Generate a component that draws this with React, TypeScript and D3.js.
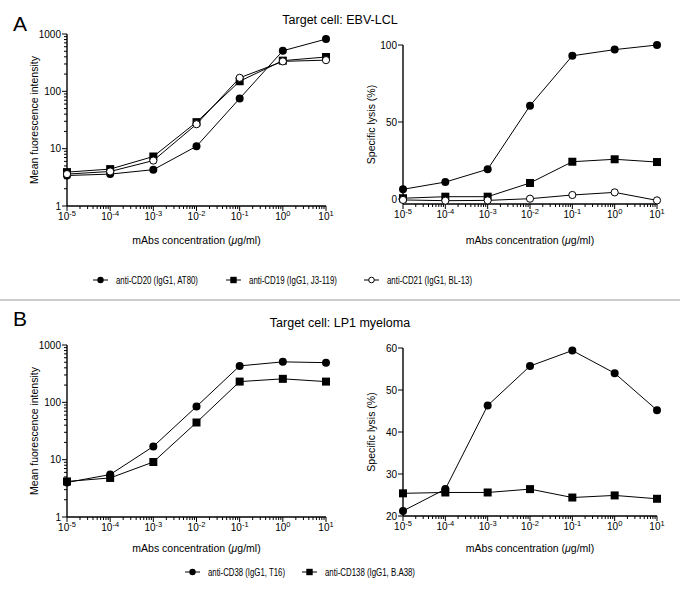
import React from "react";
import * as d3 from "d3";

// ---- data ----
const concentrations = [1e-5, 1e-4, 1e-3, 1e-2, 1e-1, 1, 10];
const xTickExponents = [-5, -4, -3, -2, -1, 0, 1];

const mfiCD20 = [3.4, 3.6, 4.3, 11, 75, 510, 815];
const mfiCD19 = [3.9, 4.4, 7.3, 29, 150, 343, 397];
const mfiCD21 = [3.6, 4.0, 6.2, 26.7, 172, 333, 350];
const lysisCD20 = [6.3, 11, 19.3, 60.6, 93, 97, 100];
const lysisCD19 = [0.5, 1.5, 1.5, 10.4, 24.2, 25.8, 24];
const lysisCD21 = [-0.6, -1.1, -0.9, 0.2, 2.6, 4.3, -0.9];

const mfiCD38 = [4.0, 5.5, 17, 84.5, 432, 508, 492];
const mfiCD138 = [4.17, 4.8, 9.1, 44.5, 230, 257, 230];
const lysisCD38 = [21.2, 26.4, 46.3, 55.7, 59.4, 54, 45.2];
const lysisCD138 = [25.4, 25.6, 25.6, 26.4, 24.4, 24.9, 24.1];

const mfiTicks = [1, 10, 100, 1000];
const lysisTicksA = [0, 50, 100];
const lysisTicksB = [20, 30, 40, 50, 60];

const legendA = ["anti-CD20 (IgG1, AT80)", "anti-CD19 (IgG1, J3-119)", "anti-CD21 (IgG1, BL-13)"];
const legendB = ["anti-CD38 (IgG1, T16)", "anti-CD138 (IgG1, B.A38)"];

const FONT = "'Liberation Sans', Arial, Helvetica, sans-serif";

type MarkerKind = "circle" | "square" | "open";

function Marker({ kind, x, y, s = 4 }: { kind: MarkerKind; x: number; y: number; s?: number }) {
  if (kind === "square")
    return <rect x={x - s} y={y - s} width={2 * s} height={2 * s} fill="#000" />;
  if (kind === "open")
    return <circle cx={x} cy={y} r={s - 0.4} fill="#fff" stroke="#000" strokeWidth={1} />;
  return <circle cx={x} cy={y} r={s} fill="#000" />;
}

type Series = { values: number[]; kind: MarkerKind };

function Panel(props: {
  x0: number;
  x1: number;
  yScale: any;
  isLog: boolean;
  yTicks: number[];
  axisBottom: number;
  axisTop: number;
  series: Series[];
  yTitle: string;
  yTitleX: number;
  xLabelDy: number;
  xTitleDy: number;
}) {
  const { x0, x1, yScale, isLog, yTicks, axisBottom, axisTop, series, yTitle, yTitleX, xLabelDy, xTitleDy } = props;
  const x = d3.scaleLog().domain([1e-5, 10]).range([x0, x1]);
  const xAll = x.ticks();
  const isMajor = (v: number) => Math.abs(Math.log10(v) - Math.round(Math.log10(v))) < 1e-9;
  const yMinor = isLog ? (yScale.ticks() as number[]).filter((v) => !isMajor(v)) : [];
  const line = d3
    .line<number>()
    .x((_, i) => x(concentrations[i]))
    .y((d) => yScale(d));
  const yMid = (axisTop + axisBottom) / 2;
  return (
    <g fontFamily={FONT} fill="#000">
      {/* axes */}
      <line x1={x0} x2={x0} y1={axisTop} y2={axisBottom} stroke="#000" strokeWidth={1.4} />
      <line x1={x0} x2={x1} y1={axisBottom} y2={axisBottom} stroke="#000" strokeWidth={1.4} />
      {xAll.map((v, i) => (
        <line
          key={"xt" + i}
          x1={x(v)}
          x2={x(v)}
          y1={axisBottom}
          y2={axisBottom + (isMajor(v) ? 5 : 3)}
          stroke="#000"
          strokeWidth={1}
        />
      ))}
      {xTickExponents.map((e) => (
        <text key={"xl" + e} x={x(Math.pow(10, e))} y={axisBottom + xLabelDy} fontSize={10} textAnchor="middle">
          <tspan>10</tspan>
          <tspan dy={-4} fontSize={7.5}>
            {String(e)}
          </tspan>
        </text>
      ))}
      <text x={(x0 + x1) / 2} y={axisBottom + xTitleDy} fontSize={10.5} textAnchor="middle">
        mAbs concentration (<tspan fontStyle="italic">μ</tspan>g/ml)
      </text>
      {yTicks.map((v) => (
        <g key={"yt" + v}>
          <line x1={x0 - 5} x2={x0} y1={yScale(v)} y2={yScale(v)} stroke="#000" strokeWidth={1} />
          <text x={x0 - 6} y={yScale(v)} dy="0.35em" fontSize={10} textAnchor="end">
            {v}
          </text>
        </g>
      ))}
      {yMinor.map((v, i) => (
        <line key={"ym" + i} x1={x0 - 3} x2={x0} y1={yScale(v)} y2={yScale(v)} stroke="#000" strokeWidth={1} />
      ))}
      <text
        transform={`translate(${yTitleX},${yMid}) rotate(-90)`}
        fontSize={10.5}
        textAnchor="middle"
      >
        {yTitle}
      </text>
      {/* series */}
      {series.map((s, si) => (
        <path key={"l" + si} d={line(s.values) || ""} fill="none" stroke="#000" strokeWidth={1} />
      ))}
      {series.map((s, si) => (
        <g key={"m" + si}>
          {s.values.map((v, i) => (
            <Marker key={i} kind={s.kind} x={x(concentrations[i])} y={yScale(v)} />
          ))}
        </g>
      ))}
    </g>
  );
}

function LegendItem({ x, y, kind, label, width }: { x: number; y: number; kind: MarkerKind; label: string; width: number }) {
  return (
    <g>
      <line x1={x} x2={x + 15} y1={y} y2={y} stroke="#000" strokeWidth={1} />
      <Marker kind={kind} x={x + 7.5} y={y} s={3.2} />
      <text
        x={x + 23}
        y={y}
        dy="0.35em"
        fontSize={10.5}
        fontFamily={FONT}
        textLength={width}
        lengthAdjust="spacingAndGlyphs"
      >
        {label}
      </text>
    </g>
  );
}

export default function App() {
  const yA1 = d3.scaleLog().domain([1, 1000]).range([206, 34]);
  const yA2 = d3.scaleLinear().domain([0, 100]).range([199, 45]);
  const yB1 = d3.scaleLog().domain([1, 1000]).range([517, 345]);
  const yB2 = d3.scaleLinear().domain([20, 60]).range([516, 348]);
  const kinds: MarkerKind[] = ["circle", "square", "open"];
  return (
    <svg
      width={680}
      height={610}
      viewBox="0 0 680 610"
      style={{ position: "absolute", left: 0, top: 0, background: "#fff" }}
    >
      <rect width={680} height={610} fill="#fff" />
      {/* Panel A */}
      <text x={13} y={31} fontSize={21} fontFamily={FONT}>A</text>
      <text x={340} y={24} fontSize={12.5} fontFamily={FONT} textAnchor="middle">
        Target cell: EBV-LCL
      </text>
      <Panel
        x0={67}
        x1={326}
        yScale={yA1}
        isLog={true}
        yTicks={mfiTicks}
        axisTop={34}
        axisBottom={206}
        series={[
          { values: mfiCD20, kind: "circle" },
          { values: mfiCD19, kind: "square" },
          { values: mfiCD21, kind: "open" },
        ]}
        yTitle="Mean fuorescence intensity"
        yTitleX={38}
        xLabelDy={14}
        xTitleDy={38}
      />
      <Panel
        x0={403}
        x1={657}
        yScale={yA2}
        isLog={false}
        yTicks={lysisTicksA}
        axisTop={45}
        axisBottom={204}
        series={[
          { values: lysisCD20, kind: "circle" },
          { values: lysisCD19, kind: "square" },
          { values: lysisCD21, kind: "open" },
        ]}
        yTitle="Specific lysis (%)"
        yTitleX={375}
        xLabelDy={14}
        xTitleDy={40}
      />
      <LegendItem x={93} y={280} kind={kinds[0]} label={legendA[0]} width={82} />
      <LegendItem x={226} y={280} kind={kinds[1]} label={legendA[1]} width={88} />
      <LegendItem x={364} y={280} kind={kinds[2]} label={legendA[2]} width={85} />

      <line x1={0} x2={680} y1={300} y2={300} stroke="#cccccc" strokeWidth={2} />

      {/* Panel B */}
      <text x={13} y={326} fontSize={21} fontFamily={FONT}>B</text>
      <text x={340} y={327} fontSize={12.5} fontFamily={FONT} textAnchor="middle">
        Target cell: LP1 myeloma
      </text>
      <Panel
        x0={67}
        x1={326}
        yScale={yB1}
        isLog={true}
        yTicks={mfiTicks}
        axisTop={345}
        axisBottom={517}
        series={[
          { values: mfiCD38, kind: "circle" },
          { values: mfiCD138, kind: "square" },
        ]}
        yTitle="Mean fuorescence intensity"
        yTitleX={38}
        xLabelDy={14}
        xTitleDy={35}
      />
      <Panel
        x0={403}
        x1={657}
        yScale={yB2}
        isLog={false}
        yTicks={lysisTicksB}
        axisTop={348}
        axisBottom={516}
        series={[
          { values: lysisCD38, kind: "circle" },
          { values: lysisCD138, kind: "square" },
        ]}
        yTitle="Specific lysis (%)"
        yTitleX={375}
        xLabelDy={14}
        xTitleDy={36}
      />
      <LegendItem x={185} y={572} kind={kinds[0]} label={legendB[0]} width={77} />
      <LegendItem x={302} y={572} kind={kinds[1]} label={legendB[1]} width={90} />
    </svg>
  );
}
